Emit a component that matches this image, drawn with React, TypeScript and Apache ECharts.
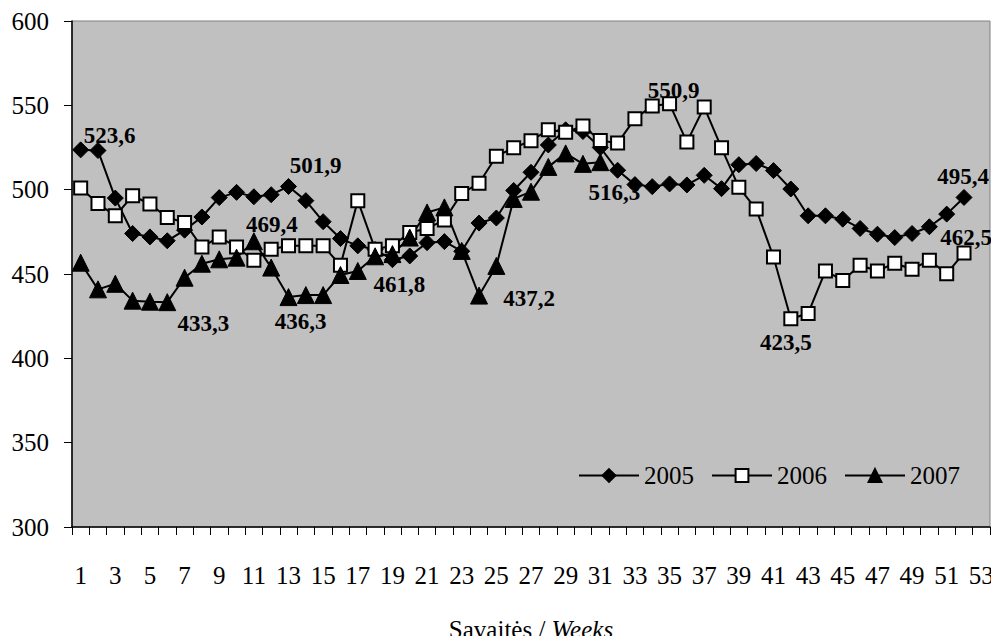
import React, { useEffect, useRef } from "react";
import * as echarts from "echarts";

const weeks: string[] = Array.from({ length: 53 }, (_, i) => String(i + 1));

const s2005: number[] = [
  523.6, 523.2, 495, 474, 472, 469.7, 476, 483.8, 495.3, 498.4, 495.8, 497, 501.9,
  493.5, 481, 471, 466.7, 464.5, 458.5, 460.7, 468.6, 469.2, 463.5, 480.2, 483.2,
  499.5, 510.3, 526.5, 535.5, 534.5, 525, 511.5, 503, 501.8, 503.4, 502.8, 508.5,
  500.6, 514.8, 515.5, 511.3, 500.4, 484.5, 484.5, 482.5, 477, 473.6, 471.6, 474,
  478, 485.5, 495.4,
];

const s2006: number[] = [
  501, 491.8, 484.5, 496.4, 491.5, 483.5, 480.5, 466, 472, 466, 458.2, 464.7, 466.7,
  466.7, 466.7, 455.2, 493.5, 464.7, 466.7, 474.6, 477, 482, 497.8, 503.8, 519.8,
  524.8, 529, 535.5, 534.1, 537.7, 529.2, 527.6, 542.1, 549.6, 550.9, 528.2, 549,
  524.8, 501.4, 488.5, 460.1, 423.5, 426.6, 451.8, 446.2, 455.2, 451.8, 456.4, 452.8,
  458.2, 450.2, 462.5,
];

const s2007: number[] = [
  456.7, 440.9, 444.2, 434.2, 433.6, 433.3, 447.8, 456.1, 458.7, 459.7, 469.4, 453.8,
  436.3, 437.5, 437.5, 449.4, 451.8, 460.5, 461.8, 471.6, 486.5, 489.5, 463.7, 437.2,
  454.8, 494.5, 498.8, 513.5, 521.5, 515.3, 516.3,
];

const seriesNames: string[] = ["2005", "2006", "2007"];

// annotated points: [series index, data index, label offset]
const annotations: [number, number, [number, number]][] = [
  [0, 0, [29, -14]],
  [0, 12, [27, -21]],
  [0, 51, [-1, -21]],
  [1, 34, [4, -13]],
  [1, 41, [-5, 24]],
  [1, 51, [2, -15]],
  [2, 5, [36, 21]],
  [2, 10, [18, -17]],
  [2, 12, [12, 24]],
  [2, 18, [7, 30]],
  [2, 23, [50, 3]],
  [2, 30, [14, 30]],
];

const FONT = "Liberation Serif";

function fmt(v: number): string {
  return v.toFixed(1).replace(".", ",");
}

function buildData(values: number[], si: number) {
  return values.map((v, i) => {
    const a = annotations.find((x) => x[0] === si && x[1] === i);
    if (!a) return v;
    return {
      value: v,
      label: {
        show: true,
        position: "inside",
        offset: a[2],
        formatter: fmt(v),
        fontFamily: FONT,
        fontWeight: "bold",
        fontSize: 23,
        color: "#000",
      },
    };
  });
}

export default function App() {
  const ref = useRef<HTMLDivElement>(null);
  useEffect(() => {
    if (!ref.current) return;
    const chart = echarts.init(ref.current, undefined, { renderer: "svg" });
    const symbols = [
      { symbol: "diamond", symbolSize: 16, itemStyle: { color: "#000", borderColor: "#000", borderWidth: 1 } },
      { symbol: "rect", symbolSize: 13, itemStyle: { color: "#fff", borderColor: "#000", borderWidth: 2 } },
      { symbol: "triangle", symbolSize: 17, itemStyle: { color: "#000", borderColor: "#000", borderWidth: 1 } },
    ];
    const all = [s2005, s2006, s2007];
    chart.setOption({
      animation: false,
      backgroundColor: "#fff",
      textStyle: { fontFamily: FONT },
      grid: {
        left: 72,
        right: 9,
        top: 21,
        bottom: 117,
        containLabel: false,
        outerBoundsMode: "none",
        show: true,
        backgroundColor: "#c0c0c0",
        borderColor: "#808080",
        borderWidth: 1,
      },
      legend: {
        data: seriesNames,
        right: 39,
        top: 463,
        padding: 0,
        itemWidth: 60,
        itemHeight: 16,
        itemGap: 17,
        textStyle: { fontFamily: FONT, fontSize: 25, color: "#000" },
      },
      xAxis: {
        type: "category",
        data: weeks,
        boundaryGap: true,
        name: "{a|Savaitės / }{b|Weeks}",
        nameLocation: "middle",
        nameGap: 90,
        nameTextStyle: {
          rich: {
            a: { fontFamily: FONT, fontSize: 25, color: "#000" },
            b: { fontFamily: FONT, fontSize: 25, color: "#000", fontStyle: "italic" },
          },
        },
        axisLine: { show: true, lineStyle: { color: "#000", width: 1.5 } },
        axisTick: { show: true, interval: 0, length: 8, lineStyle: { color: "#000" } },
        axisLabel: { interval: 1, margin: 36, fontFamily: FONT, fontSize: 25, color: "#000" },
        splitLine: { show: false },
      },
      yAxis: {
        type: "value",
        min: 300,
        max: 600,
        interval: 50,
        axisLine: { show: true, lineStyle: { color: "#000", width: 1.5 } },
        axisTick: { show: true, length: 8, lineStyle: { color: "#000" } },
        axisLabel: { margin: 23, fontFamily: FONT, fontSize: 25, color: "#000" },
        splitLine: { show: false },
      },
      series: all.map((vals, si) => ({
        name: seriesNames[si],
        type: "line",
        data: buildData(vals, si),
        ...symbols[si],
        showAllSymbol: true,
        lineStyle: { color: "#000", width: 2 },
        label: { show: false },
        emphasis: { disabled: true },
      })),
    });
    return () => chart.dispose();
  }, []);
  return <div ref={ref} style={{ width: 999, height: 644, margin: -8 }} />;
}
